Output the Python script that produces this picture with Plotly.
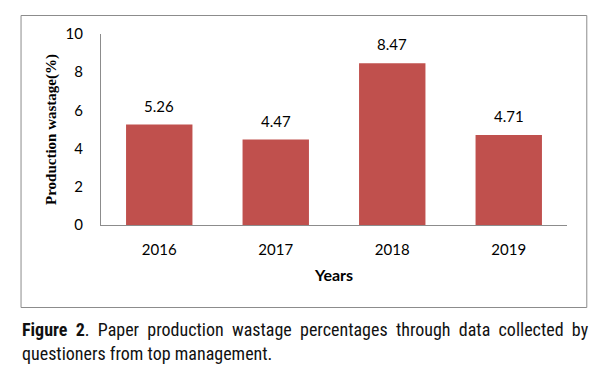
import plotly.graph_objects as go

years = ["2016", "2017", "2018", "2019"]
wastage = [5.26, 4.47, 8.47, 4.71]
y_ticks = [0, 2, 4, 6, 8, 10]

# the page body adds an 8px offset; positions below are reference pixels
OFF = 8
W, H = 610 - OFF, 369 - OFF
L, R, T, B = 100.5 - OFF, W - (566.7 - OFF), 34 - OFF, H - (225 - OFF)
pw, ph = W - L - R, H - T - B

def px_x(px):
    return (px - OFF - L) / pw

def px_y(py):
    return (H - B - (py - OFF)) / ph

tick_font = dict(family="Lato, Open Sans, sans-serif", size=15, color="#000")

fig = go.Figure()
fig.add_trace(go.Bar(
    x=years, y=wastage, width=0.57,
    marker=dict(color="#C0504D", line=dict(width=0)),
    hoverinfo="skip",
))

for i, v in enumerate(wastage):
    fig.add_annotation(x=i, y=v, text=f"{v:.2f}", showarrow=False,
                       yanchor="bottom", yshift=8, font=tick_font)

# outer frame
fig.add_shape(type="rect", xref="paper", yref="paper",
              x0=px_x(20.5), x1=px_x(586.5), y0=px_y(307.5), y1=px_y(15.5),
              line=dict(color="#8c8c8c", width=1), fillcolor="rgba(0,0,0,0)", layer="below")

# caption (first line justified by adding a small extra space between words)
gap = " &nbsp;"
line1 = gap.join(["<b>Figure</b>", "<b>2</b>.", "Paper", "production", "wastage", "percentages",
                  "through", "data", "collected", "by"])
cap_font = dict(family="Roboto Condensed, Liberation Sans Narrow, Roboto, sans-serif", size=18, color="#111")
fig.add_annotation(xref="paper", yref="paper", x=px_x(19.5), y=px_y(329), xanchor="left", yanchor="middle",
                   showarrow=False, align="left", text=line1, font=cap_font)
fig.add_annotation(xref="paper", yref="paper", x=px_x(19.5), y=px_y(353), xanchor="left", yanchor="middle",
                   showarrow=False, align="left", text="questioners from top management.", font=cap_font)

fig.update_layout(
    width=W, height=H,
    margin=dict(l=L, r=R, t=T, b=B, autoexpand=False),
    paper_bgcolor="white", plot_bgcolor="white",
    showlegend=False,
    xaxis=dict(
        type="category", range=[-0.5, len(years) - 0.5],
        showline=True, linecolor="#8c8c8c", linewidth=1,
        ticks="", showgrid=False, ticklabelstandoff=11,
        tickfont=tick_font,
        title=dict(text="<b>Years</b>", standoff=12,
                   font=dict(family="Lato, Open Sans, sans-serif", size=16, color="#000")),
    ),
    yaxis=dict(
        range=[0, 10], tickvals=y_ticks,
        showline=True, linecolor="#8c8c8c", linewidth=1,
        ticks="", showgrid=False, zeroline=False, ticklabelstandoff=14,
        tickfont=tick_font,
        title=dict(text="<b>Production wastage(%)</b>", standoff=5,
                   font=dict(family="Liberation Serif, Times New Roman, serif", size=15, color="#000")),
    ),
)

fig.write_html("out.html")
